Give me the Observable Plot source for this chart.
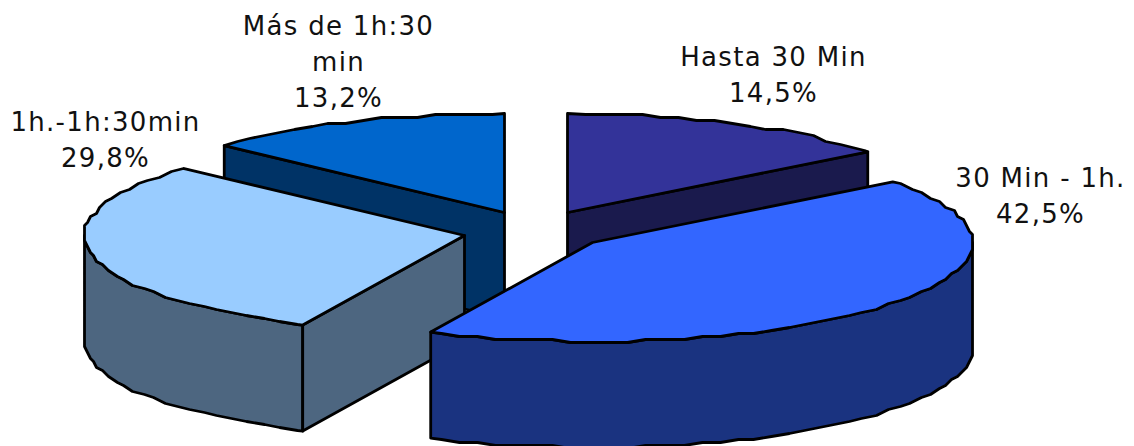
<!DOCTYPE html>
<html>
<head>
<meta charset="utf-8">
<style>html,body{margin:0;padding:0;background:#fff;overflow:hidden}svg{display:block}</style>
<script src="https://cdn.jsdelivr.net/npm/d3@7"></script>
<script src="https://cdn.jsdelivr.net/npm/@observablehq/plot@0.6"></script>
</head>
<body>
<script>
// Data
const categories = ["Hasta 30 Min", "30 Min - 1h.", "1h.-1h:30min", "Más de 1h:30\nmin"];
const percents = [14.5, 42.5, 29.8, 13.2];
const percentLabels = ["14,5%", "42,5%", "29,8%", "13,2%"];
const topColors = ["#333399", "#3366FF", "#99CCFF", "#0066CC"];
const sideColors = ["#1A1A4D", "#1A3380", "#4D6680", "#003366"];

// Layout of the exploded pie
const apexX = [567, 592, 464, 504];
const apexY = [212, 242, 235, 212];
const labelX = [773, 1040, 105, 338];
const labelY = [72, 193, 137, 59];
const radiusX = 380, radiusY = 99, depth = 106;
const paintOrder = [0, 3, 2, 1];

const total = d3.sum(percents);
const cumulative = d3.cumsum(percents);
const snap = (v, q) => Math.round(v / q) * q;
const angleStep = 0.05;

// Points along a slice's rim, from its angles. Inner points use one shared angular
// grid and a coarse pixel grid, as the rim of the low-resolution original does,
// so that the wall and the top of a slice follow exactly the same outline.
function rim(i, a0, a1) {
  const point = (a, coarse) => {
    const x = apexX[i] + radiusX * Math.sin(a);
    const y = apexY[i] - radiusY * Math.cos(a);
    return coarse ? {x: snap(x, 3), y: snap(y, 3)} : {x, y};
  };
  const first = Math.floor(a0 / angleStep) + 1, last = Math.ceil(a1 / angleStep) - 1;
  const inner = d3.range(first, last + 1).map((k) => point(k * angleStep, true));
  return [point(a0, false), ...inner, point(a1, false)];
}
const drop = (p) => ({x: p.x, y: p.y + depth});

const marks = [];
const outline = {x: "x", y: "y", stroke: "#000", strokeWidth: 2.8, strokeLinejoin: "round", curve: "linear-closed"};
for (const i of paintOrder) {
  const a0 = (i ? cumulative[i - 1] : 0) / total * 2 * Math.PI;
  const a1 = cumulative[i] / total * 2 * Math.PI;
  const apex = {x: apexX[i], y: apexY[i]};
  const arc = rim(i, a0, a1);
  const front0 = Math.max(a0, Math.PI / 2), front1 = Math.min(a1, 3 * Math.PI / 2);
  if (front1 > front0) {
    const wall = rim(i, front0, front1);
    marks.push(Plot.line([...wall, ...wall.map(drop).reverse()], {...outline, fill: sideColors[i]}));
  }
  // Only the cut faces turned towards the viewer are drawn.
  const faces = [];
  if (Math.sin(a0) < -1e-6) faces.push(arc[0]);
  if (Math.sin(a1) > 1e-6) faces.push(arc[arc.length - 1]);
  for (const edge of faces) {
    marks.push(Plot.line([apex, edge, drop(edge), drop(apex)], {...outline, fill: sideColors[i]}));
  }
  marks.push(Plot.line([apex, ...arc], {...outline, fill: topColors[i]}));
}
const labels = categories.map((c, i) => ({text: c + "\n" + percentLabels[i], x: labelX[i], y: labelY[i]}));
marks.push(Plot.text(labels, {
  x: "x", y: "y", text: "text", fill: "#111", fontSize: 26, lineHeight: 1.37,
  textAnchor: "middle", lineAnchor: "middle", fontFamily: "DejaVu Sans"
}));

document.body.append(Plot.plot({
  width: 1134, height: 446, margin: 0,
  style: {letterSpacing: "1.3px"},
  x: {domain: [0, 1134], range: [0, 1134], axis: null},
  y: {domain: [0, 446], range: [0, 446], axis: null},
  marks
}));
</script>
</body>
</html>
